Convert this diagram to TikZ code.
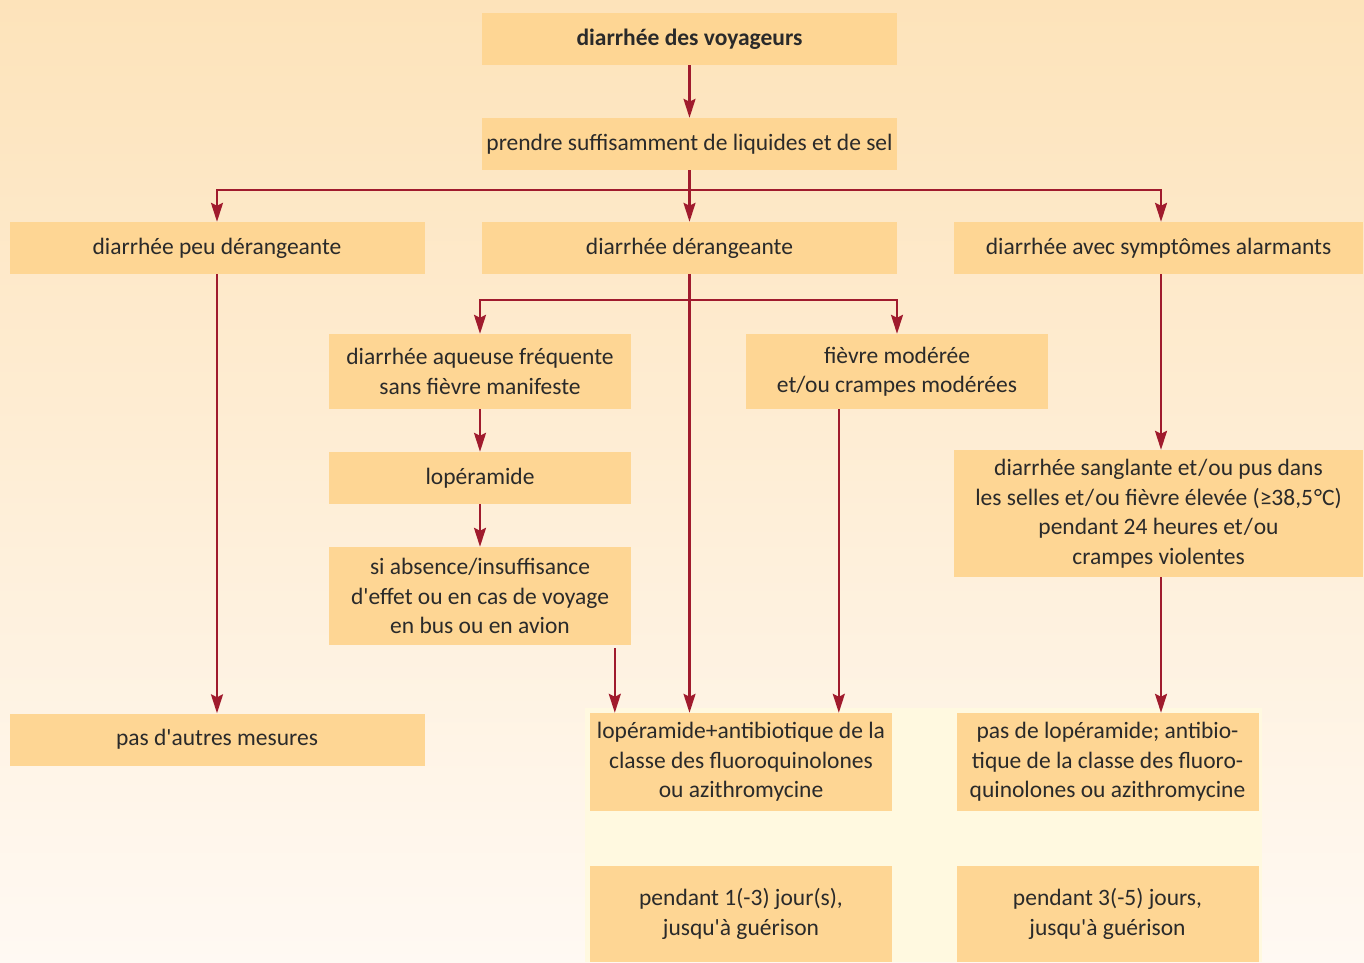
\documentclass[tikz,border=0pt]{standalone}
\usepackage{fontspec}
\setmainfont{Carlito}[Ligatures=TeXOff]
\usepackage{tikz}
\usetikzlibrary{positioning,calc,arrows.meta}
\definecolor{flow}{HTML}{A01B2D}
\definecolor{boxfill}{HTML}{FED694}
\definecolor{bgtop}{HTML}{FDE3BA}
\definecolor{bgbot}{HTML}{FFF9F3}
\definecolor{pale}{HTML}{FFF9E0}
\definecolor{ink}{HTML}{2A2A2A}

\begin{document}
\begin{tikzpicture}[x=1pt,y=-1pt,font=\fontsize{23.5}{29.5}\selectfont,
  >={Stealth[length=19pt,width=12pt,inset=3pt]},
  box/.style={fill=boxfill,inner sep=0pt,align=center,text=ink},
  wide/.style={box,minimum width=415pt,minimum height=52pt},
  narrow/.style={box,minimum width=302pt},
  link/.style={->,draw=flow,line width=2.4pt}]

% ---- background
\useasboundingbox (0,0) rectangle (1364,962);
\shade[top color=bgtop,bottom color=bgbot] (0,0) rectangle (1364,962);
\fill[pale] (585,708) rectangle (1262,962);

% ---- top of the tree
\node[wide,font=\fontsize{23.5}{29.5}\selectfont\bfseries] (travel) at (689.5,39) {diarrhée des voyageurs};
\node[wide] (fluids) at (689.5,144) {prendre suffisamment de liquides et de sel};
\node[wide] (mild) at (217,248) {diarrhée peu dérangeante};
\node[wide] (bother) at (689.5,248) {diarrhée dérangeante};
\node[wide,minimum width=409pt] (alarm) at (1158.5,248) {diarrhée avec symptômes alarmants};

% ---- middle column
\node[narrow,minimum height=75pt] (watery) at (480,371.5) {diarrhée aqueuse fréquente\\sans fièvre manifeste};
\node[narrow,minimum height=75pt] (fever) at (897,371.5) {fièvre modérée\\et/ou crampes modérées};
\node[narrow,minimum height=52pt] (lop) at (480,478) {lopéramide};
\node[narrow,minimum height=98pt] (noeff) at (480,596) {si absence/insuffisance\\d'effet ou en cas de voyage\\en bus ou en avion};
\node[box,minimum width=409pt,minimum height=127pt] (severe) at (1158.5,513.5)
  {diarrhée sanglante et\kern1pt/\kern1pt ou pus dans\\les selles et\kern1pt/\kern1pt ou fièvre élevée (≥38,5\kern1pt°C)\\pendant 24 heures et\kern1pt/\kern1pt ou\\crampes violentes};

% ---- outcomes
\node[wide] (none) at (217,739.5) {pas d'autres mesures};
\node[narrow,minimum height=98pt] (combo) at (741,762) {lopéramide+antibiotique de la\\classe des fluoroquinolones\\ou azithromycine};
\node[narrow,minimum height=98pt] (antib) at (1107.5,762) {pas de lopéramide; antibio-\\tique de la classe des fluoro-\\quinolones ou azithromycine};
\node[narrow,minimum height=96pt] (short) at (741,914) {pendant 1(-3) jour(s),\\jusqu'à guérison};
\node[narrow,minimum height=96pt] (long) at (1107.5,914) {pendant 3(-5) jours,\\jusqu'à guérison};

% ---- connectors
\coordinate (split) at (689.5,190);
\coordinate (fork) at (689.5,300);
\coordinate (c1) at ([xshift=25pt]combo.north west);
\coordinate (c2) at ([xshift=249pt]combo.north west);
\draw[link] (travel) -- (fluids);
\draw[link,-] (fluids) -- (split);
\draw[link] (split) -| (mild);
\draw[link] (split) -- (bother);
\draw[link] (split) -| ([xshift=2.5pt]alarm.north);
\draw[link] (mild) -- (none);
\draw[link] (bother.south) -- (bother.south |- combo.north);
\draw[link] (fork) -| (watery);
\draw[link] (fork) -| (fever);
\draw[link] (watery) -- (lop);
\draw[link] (lop) -- (noeff);
\draw[link] ([yshift=-3pt]noeff.south -| c1) -- (c1);
\draw[link] (fever.south -| c2) -- (c2);
\draw[link] ([xshift=2.5pt]alarm.south) -- ([xshift=2.5pt]severe.north);
\draw[link] ([xshift=2.5pt]severe.south) -- ([xshift=2.5pt]severe.south |- antib.north);
\end{tikzpicture}
\end{document}
